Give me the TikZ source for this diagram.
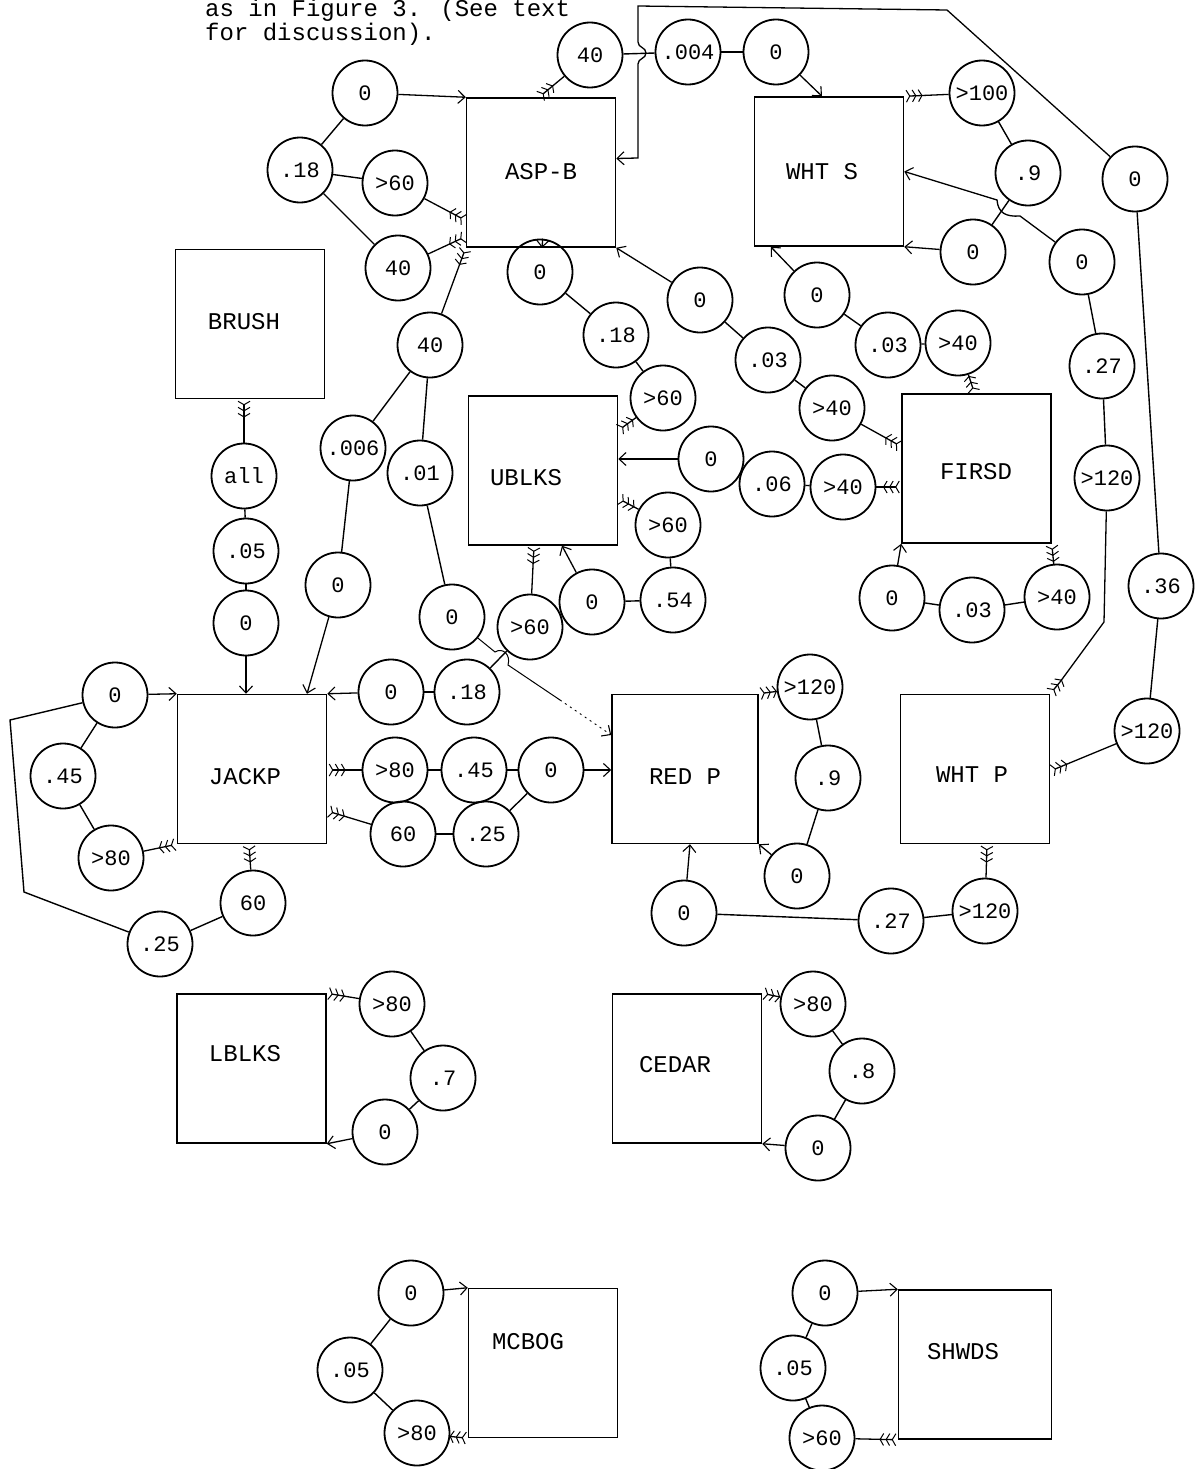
\documentclass[tikz,border=0pt]{standalone}
\usepackage{fontspec}
\newfontfamily\tw{Liberation Mono}
\usetikzlibrary{arrows.meta,calc}
\begin{document}
\begin{tikzpicture}[x=1pt,y=-1pt,
  fb/.tip={Straight Barb[reversed,length=3.5pt,width=12pt,line width=1pt,sep=1.5pt]},
  sb/.tip={Straight Barb[length=7pt,width=13pt,line width=1.1pt]},
  fl/.style={line width=1.3pt,{fb[]fb[]fb[]}-},
  ar/.style={line width=1.3pt,-{sb[]}},
  ln/.style={line width=1.4pt},
  box/.style={draw,rectangle,line width=1.5pt,minimum width=149pt,minimum height=149pt,inner sep=0pt},
  lab/.style={font=\tw\fontsize{24}{28}\selectfont,inner sep=0pt},
  cir/.style={draw,circle,line width=1.8pt,minimum size=65pt,inner sep=0pt,font=\tw\fontsize{22}{26}\selectfont},
]
\fill[white] (0,0) rectangle (1194,1469);
\useasboundingbox (0,0) rectangle (1194,1469);

% caption
\node[lab,anchor=base west] (cap1) at (205,17) {as in Figure 3. (See text};
\node[lab,anchor=base west] (cap2) at (205,41) {for discussion).};

% boxes
\node[box] (ASPB) at (541,172.5) {};
\node[box] (WHTS) at (829,171.5) {};
\node[box] (BRUSH) at (250,324) {};
\node[box] (UBLKS) at (543,470.5) {};
\node[box] (FIRSD) at (976.5,468.5) {};
\node[box] (JACKP) at (252,769) {};
\node[box,minimum width=146pt] (REDP) at (685,769) {};
\node[box] (WHTP) at (975,769) {};
\node[box] (LBLKS) at (251.5,1068.5) {};
\node[box] (CEDAR) at (687,1068.5) {};
\node[box] (MCBOG) at (543,1363) {};
\node[box,minimum width=153pt] (SHWDS) at (975,1364.5) {};

\node[lab] (ASPBt) at (541,172) {ASP-B};
\node[lab] (WHTSt) at (822,172) {WHT S};
\node[lab] (BRUSHt) at (244,322) {BRUSH};
\node[lab] (UBLKSt) at (526,478) {UBLKS};
\node[lab] (FIRSDt) at (976,472) {FIRSD};
\node[lab] (JACKPt) at (245,777) {JACKP};
\node[lab] (REDPt) at (685,777) {RED P};
\node[lab] (WHTPt) at (972,775) {WHT P};
\node[lab] (LBLKSt) at (245,1054) {LBLKS};
\node[lab] (CEDARt) at (675,1065) {CEDAR};
\node[lab] (MCBOGt) at (528,1342) {MCBOG};
\node[lab] (SHWDSt) at (963,1352) {SHWDS};

% circles
\node[cir] (a0) at (365,93) {0};
\node[cir] (a18) at (300,170) {.18};
\node[cir] (a60) at (395,183) {>60};
\node[cir] (a40) at (398,268) {40};
\node[cir] (t40) at (590,55) {40};
\node[cir] (t004) at (688,52) {.004};
\node[cir] (t0) at (776,52) {0};
\node[cir] (b0) at (540,272) {0};
\node[cir] (b18) at (616,335) {.18};
\node[cir] (b60) at (663,398) {>60};
\node[cir] (c0) at (700,300) {0};
\node[cir] (c03) at (768,360) {.03};
\node[cir] (c40) at (832,408) {>40};
\node[cir] (d0) at (817,295) {0};
\node[cir] (d03) at (888,345) {.03};
\node[cir] (d40) at (958,343) {>40};
\node[cir] (s100) at (982,93) {>100};
\node[cir] (s9) at (1028,173) {.9};
\node[cir] (s0) at (973,252) {0};
\node[cir] (e0) at (1082,262) {0};
\node[cir] (e27) at (1102,366) {.27};
\node[cir] (e120) at (1107,478) {>120};
\node[cir] (f0) at (1135,179) {0};
\node[cir] (f36) at (1161,586) {.36};
\node[cir] (f120) at (1147,731) {>120};
\node[cir] (u0) at (711,459) {0};
\node[cir] (u06) at (772,484) {.06};
\node[cir] (u40) at (843,487) {>40};
\node[cir] (v60) at (668,525) {>60};
\node[cir] (v54) at (673,600) {.54};
\node[cir] (v0) at (592,602) {0};
\node[cir] (g40) at (430,345) {40};
\node[cir] (g006) at (353,448) {.006};
\node[cir] (g01) at (420,473) {.01};
\node[cir] (g0a) at (338,585) {0};
\node[cir] (g0b) at (452,617) {0};
\node[cir] (w60) at (530,627) {>60};
\node[cir] (ba) at (244,476) {all};
\node[cir] (b05) at (246,551) {.05};
\node[cir] (bz) at (246,623) {0};
\node[cir] (h0) at (892,598) {0};
\node[cir] (h03) at (972,610) {.03};
\node[cir] (h40) at (1057,597) {>40};
\node[cir] (j0) at (115,695) {0};
\node[cir] (j45) at (63,776) {.45};
\node[cir] (j80) at (111,858) {>80};
\node[cir] (j25) at (160,944) {.25};
\node[cir] (j60) at (253,903) {60};
\node[cir] (k0) at (391,692) {0};
\node[cir] (k18) at (467,692) {.18};
\node[cir] (m80) at (395,770) {>80};
\node[cir] (m45) at (474,770) {.45};
\node[cir] (m0) at (551,770) {0};
\node[cir] (n60) at (403,834) {60};
\node[cir] (n25) at (486,834) {.25};
\node[cir] (r120) at (810,687) {>120};
\node[cir] (r9) at (828,778) {.9};
\node[cir] (r0) at (797,876) {0};
\node[cir] (q0) at (684,913) {0};
\node[cir] (q27) at (891,921) {.27};
\node[cir] (q120) at (985,911) {>120};
\node[cir] (L80) at (392,1004) {>80};
\node[cir] (L7) at (443,1078) {.7};
\node[cir] (L0) at (385,1132) {0};
\node[cir] (C80) at (813,1004) {>80};
\node[cir] (C8) at (862,1071) {.8};
\node[cir] (C0) at (818,1148) {0};
\node[cir] (M0) at (411,1293) {0};
\node[cir] (M05) at (350,1370) {.05};
\node[cir] (M80) at (417,1433) {>80};
\node[cir] (S0) at (825,1293) {0};
\node[cir] (S05) at (793,1368) {.05};
\node[cir] (S60) at (822,1438) {>60};

\coordinate (gx) at (560,700);

% ASP-B
\draw[ar] (a0) -- (ASPB.north west);
\draw[ln] (a0) -- (a18);
\draw[ln] (a18) -- (a60);
\draw[ln] (a18) -- (a40);
\draw[fl] ($(ASPB.west)+(0,48)$) -- (a60);
\draw[fl] ($(ASPB.west)+(0,64)$) -- (a40);
\draw[fl] (ASPB.south west) -- (g40);
\draw[fl] ($(ASPB.north)+(-2,0)$) -- (t40);
\draw[ln] (t40) -- (t004);
\draw[ln] (t004) -- (t0);
\draw[ar] (t0) -- ($(WHTS.north)+(-7,0)$);
\draw[ar] (f0) -- (947,10) -- (638,6) -- (638,42) .. controls (638,48) and (646,47) .. (646,53) .. controls (646,59) and (638,58) .. (638,64) -- (638,158) -- ($(ASPB.east)+(0,-14)$);
\draw[ar] (b0) -- ($(ASPB.south)+(1,0)$);
\draw[ln] (b0) -- (b18);
\draw[ln] (b18) -- (b60);
\draw[fl] ($(UBLKS.east)+(0,-40)$) -- (b60);
\draw[ar] (c0) -- (ASPB.south east);
\draw[ln] (c0) -- (c03);
\draw[ln] (c03) -- (c40);
\draw[fl] ($(FIRSD.west)+(0,-22)$) -- (c40);

% WHT S
\draw[fl] (WHTS.north east) -- (s100);
\draw[ln] (s100) -- (s9);
\draw[ln] (s9) -- (s0);
\draw[ar] (s0) -- (WHTS.south east);
\draw[ar] (e0) -- (1020,216) .. controls (1006,217) and (998,213) .. (997,200) -- (WHTS.east);
\draw[ln] (e0) -- (e27);
\draw[ln] (e27) -- (e120);
\draw[fl] (WHTP.north east) -- (1060,682) -- (1104,622) -- (e120);
\draw[ar] (d0) -- ($(WHTS.south west)+(17,0)$);
\draw[ln] (d0) -- (d03);
\draw[ln] (d03) -- (d40);
\draw[fl] ($(FIRSD.north)+(-2,0)$) -- (d40);
\draw[ln] (f0) -- (f36);
\draw[ln] (f36) -- (f120);
\draw[fl] ($(WHTP.east)+(0,2)$) -- (f120);

% UBLKS
\draw[ar] (u0) -- (UBLKS.east |- u0);
\draw[ln] (u0) -- (u06);
\draw[ln] (u06) -- (u40);
\draw[fl] (FIRSD.west |- u40) -- (u40);
\draw[fl] ($(UBLKS.east)+(0,28)$) -- (v60);
\draw[ln] (v60) -- (v54);
\draw[ln] (v54) -- (v0);
\draw[ar] (v0) -- ($(UBLKS.south)+(19,0)$);
\draw[fl] ($(UBLKS.south)+(-9,0)$) -- (w60);
\draw[ln] (w60) -- (k18);

% BRUSH and left column
\draw[fl] ($(BRUSH.south)+(-6,0)$) -- (ba);
\draw[ln] (ba) -- (b05);
\draw[ln] (b05) -- (bz);
\draw[ar] (bz) -- (bz |- JACKP.north);
\draw[ln] (g40) -- (g006);
\draw[ln] (g40) -- (g01);
\draw[ln] (g006) -- (g0a);
\draw[ln] (g01) -- (g0b);
\draw[ar] (g0a) -- ($(JACKP.north)+(55,0)$);
\draw[ln,line width=1pt] (g0b) -- (495,652) .. controls (503,647) and (511,655) .. (508,665) -- (gx);
\draw[ar,line width=0.9pt,dash pattern=on 2pt off 4pt] (gx) -- ($(REDP.west)+(0,-34)$);

% FIRSD bottom
\draw[ar] (h0) -- (FIRSD.south west);
\draw[ln] (h0) -- (h03);
\draw[ln] (h03) -- (h40);
\draw[fl] (FIRSD.south east) -- (h40);

% JACKP
\draw[ar] (j0) -- (JACKP.north west);
\draw[ln] (j0) -- (j45);
\draw[ln] (j45) -- (j80);
\draw[fl] (JACKP.south west) -- (j80);
\draw[ln] (j0) -- (10,720) -- (24,892) -- (j25);
\draw[ln] (j25) -- (j60);
\draw[fl] ($(JACKP.south)+(-3,0)$) -- (j60);
\draw[ar] (k0) -- (JACKP.north east);
\draw[ln] (k0) -- (k18);
\draw[fl] (JACKP.east |- m80) -- (m80);
\draw[ln] (m80) -- (m45);
\draw[ln] (m45) -- (m0);
\draw[ar] (m0) -- (REDP.west |- m0);
\draw[ln] (m0) -- (n25);
\draw[ln] (n25) -- (n60);
\draw[fl] ($(JACKP.east)+(0,42)$) -- (n60);

% RED P
\draw[fl] (REDP.north east) -- (r120);
\draw[ln] (r120) -- (r9);
\draw[ln] (r9) -- (r0);
\draw[ar] (r0) -- (REDP.south east);
\draw[ar] (q0) -- ($(REDP.south)+(5,0)$);
\draw[ln] (q0) -- (q27);
\draw[ln] (q27) -- (q120);
\draw[fl] ($(WHTP.south)+(12,0)$) -- (q120);

% LBLKS, CEDAR
\draw[fl] (LBLKS.north east) -- (L80);
\draw[ln] (L80) -- (L7);
\draw[ln] (L7) -- (L0);
\draw[ar] (L0) -- (LBLKS.south east);
\draw[fl] (CEDAR.north east) -- (C80);
\draw[ln] (C80) -- (C8);
\draw[ln] (C8) -- (C0);
\draw[ar] (C0) -- (CEDAR.south east);

% MCBOG, SHWDS
\draw[ar] (M0) -- (MCBOG.north west);
\draw[ln] (M0) -- (M05);
\draw[ln] (M05) -- (M80);
\draw[fl] (MCBOG.south west) -- (M80);
\draw[ar] (S0) -- (SHWDS.north west);
\draw[ln] (S0) -- (S05);
\draw[ln] (S05) -- (S60);
\draw[fl] (SHWDS.south west) -- (S60);
\end{tikzpicture}
\end{document}
